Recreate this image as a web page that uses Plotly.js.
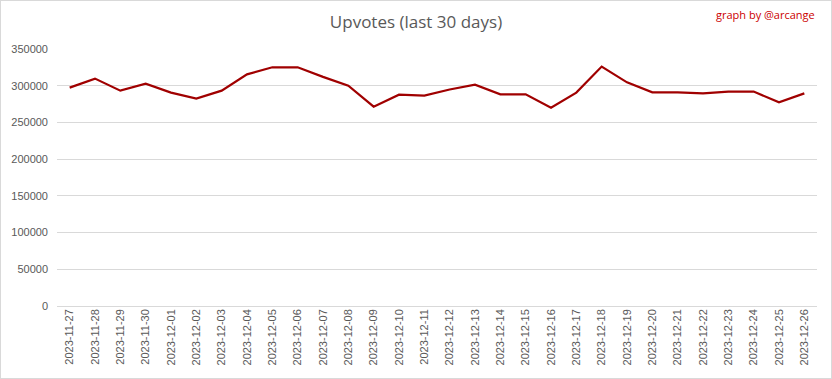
<!DOCTYPE html>
<html>
<head>
<meta charset="utf-8">
<script src="https://cdn.plot.ly/plotly-3.0.1.min.js"></script>
<style>
html,body{margin:0;padding:0;background:#fff;}
#chart{width:832px;height:379px;box-sizing:border-box;border:1px solid #d9d9d9;}
</style>
</head>
<body>
<div id="chart"></div>
<script>
const dates = ["2023-11-27","2023-11-28","2023-11-29","2023-11-30","2023-12-01","2023-12-02","2023-12-03","2023-12-04","2023-12-05","2023-12-06","2023-12-07","2023-12-08","2023-12-09","2023-12-10","2023-12-11","2023-12-12","2023-12-13","2023-12-14","2023-12-15","2023-12-16","2023-12-17","2023-12-18","2023-12-19","2023-12-20","2023-12-21","2023-12-22","2023-12-23","2023-12-24","2023-12-25","2023-12-26"];
const upvotes = [297400,309700,293300,302800,290600,282400,293300,315500,325100,325100,312000,300100,271400,287800,286500,294800,301500,288300,288300,270100,290600,326100,304600,291000,291000,289600,292000,292000,277300,289600];
const yTicks = [0,50000,100000,150000,200000,250000,300000,350000];

const trace = {
  x: dates, y: upvotes, type: 'scatter', mode: 'lines',
  line: {color: '#a00000', width: 2.2},
  hoverinfo: 'x+y'
};
const layout = {
  width: 830, height: 377,
  margin: {l: 56, r: 14, t: 48, b: 72},
  paper_bgcolor: '#fff', plot_bgcolor: '#fff',
  title: {text: 'Upvotes (last 30 days)', x: 0.5, xanchor: 'center', y: 0.96, yanchor: 'top',
          font: {family: 'Open Sans, Liberation Sans, sans-serif', size: 17, color: '#595959'}},
  showlegend: false,
  xaxis: {
    type: 'category', tickangle: -90, showgrid: false, zeroline: false,
    showline: false, ticks: '',
    tickfont: {family: 'Liberation Sans, DejaVu Sans, sans-serif', size: 11, color: '#595959'},
    range: [-0.5, dates.length - 0.5], fixedrange: true
  },
  yaxis: {
    range: [0, 350000], tickvals: yTicks, ticktext: yTicks.map(String),
    showgrid: true, gridcolor: '#d9d9d9', gridwidth: 1, zeroline: true, zerolinecolor: '#d9d9d9',
    showline: false, ticks: '', ticklabelstandoff: 8,
    tickfont: {family: 'Liberation Sans, DejaVu Sans, sans-serif', size: 11, color: '#595959'},
    fixedrange: true
  },
  annotations: [{
    text: 'graph by @arcange', xref: 'paper', yref: 'paper', x: 1.0, y: 1.0,
    xanchor: 'right', yanchor: 'bottom', yshift: 25, showarrow: false,
    font: {family: 'Open Sans, Liberation Sans, sans-serif', size: 11, color: '#cc0000'}
  }]
};
Plotly.newPlot('chart', [trace], layout, {displayModeBar: false, staticPlot: true});
</script>
</body>
</html>
